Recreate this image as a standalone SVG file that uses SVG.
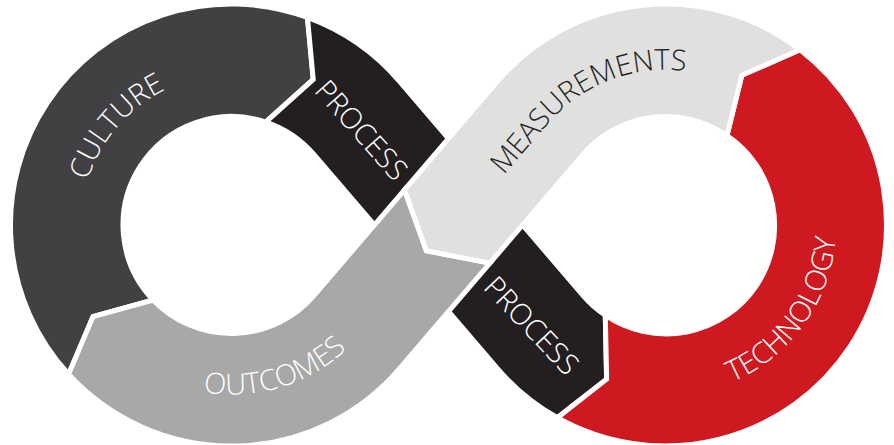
<svg xmlns="http://www.w3.org/2000/svg" width="894" height="445" viewBox="0 0 894 445">
<style>
.seg{stroke:#ffffff;stroke-width:5;stroke-linejoin:miter;stroke-miterlimit:10}
.lbl{font-family:"Open Sans","Liberation Sans",sans-serif;font-weight:300;font-size:29px}
.w{fill:#ffffff}
.d{fill:#231f20}
</style>
<defs>
<path id="pCulture" d="M89.64,274.96 A150.4,150.4 0 0 1 259.17,77.17"/>
<path id="pTech" d="M648.70,394.77 A170.6,170.6 0 0 0 820.92,154.66"/>
<path id="pOut" d="M115.18,348.43 A169.6,169.6 0 0 0 396.55,264.02"/>
<path id="pMeas" d="M455.82,231.27 L547.74,124.05 A155.11,155.11 0 0 1 811.26,171.95"/>
</defs>
<rect width="894" height="445" fill="#ffffff"/>
<g id="connectors"></g>
<g id="culture">
<path class="seg" fill="#414042" d="M68.56,374.31 L93.07,316.62 L153.07,299.97 A108.5,108.5 0 0 1 265.75,122.05 L313.23,79.36 L307.45,17.46 A221,221 0 0 0 68.56,374.31 Z"/>
<text class="lbl w"><textPath href="#pCulture" startOffset="50%" text-anchor="middle">CULTURE</textPath></text>
</g>
<g id="process-top">
<path class="seg" fill="#231f20" d="M307.45,17.46 A221,221 0 0 1 399.29,81.16 L485.55,181.79 L411.45,268.21 L313.88,154.38 A108.5,108.5 0 0 0 265.75,122.05 L313.23,79.36 Z"/>
<text class="lbl w" text-anchor="middle" transform="translate(361.5,130) rotate(48.5)" x="0" y="10.3">PROCESS</text>
</g>
<g id="process-bottom">
<path class="seg" fill="#231f20" d="M485.55,181.79 L583.12,295.62 A108.5,108.5 0 0 0 605.30,315.27 L606.64,379.14 L557.35,417.73 A221,221 0 0 1 497.71,368.84 L411.45,268.21 Z"/>
<text class="lbl w" text-anchor="middle" transform="translate(531.75,325.5) rotate(46.5)" x="0" y="10.3">PROCESS</text>
</g>
<g id="technology">
<path class="seg" fill="#cf1920" d="M557.35,417.73 A221,221 0 0 0 800.04,49.67 L741.77,75.31 L726.96,135.58 A108.5,108.5 0 0 1 605.30,315.27 L606.64,379.14 Z"/>
<text class="lbl w"><textPath href="#pTech" startOffset="50%" text-anchor="middle">TECHNOLOGY</textPath></text>
</g>
<g id="outcomes">
<path class="seg" fill="#a8a8a8" d="M404.49,189.89 L426.4,250.8 L489.91,263.11 L399.29,368.84 A221,221 0 0 1 68.56,374.31 L93.07,316.62 L153.07,299.97 A108.5,108.5 0 0 0 313.88,295.62 Z"/>
<text class="lbl w"><textPath href="#pOut" startOffset="50%" text-anchor="middle">OUTCOMES</textPath></text>
</g>
<g id="measurements">
<path class="seg" fill="#e0e0df" d="M404.49,189.89 L426.4,250.8 L489.91,263.11 L583.12,154.38 A108.5,108.5 0 0 1 726.96,135.58 L741.77,75.31 L800.04,49.67 A221,221 0 0 0 497.71,81.16 Z"/>
<text class="lbl d"><textPath href="#pMeas" startOffset="184.4" text-anchor="middle">MEASUREMENTS</textPath></text>
</g>
</svg>
